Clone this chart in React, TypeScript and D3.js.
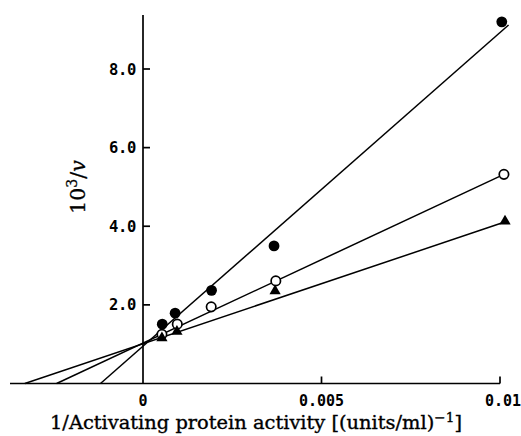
import React from "react";
import * as d3 from "d3";

const W = 521;
const H = 436;

// data (x = 1/activating protein activity, y = 10^3/v)
const filledX = [0.00054, 0.0009, 0.00192, 0.00367, 0.01005];
const filledY = [1.51, 1.79, 2.37, 3.5, 9.2];
const openX = [0.00053, 0.00096, 0.00191, 0.00372, 0.01011];
const openY = [1.25, 1.51, 1.95, 2.61, 5.32];
const triX = [0.00053, 0.00095, 0.0037, 0.01014];
const triY = [1.16, 1.32, 2.35, 4.13];

// fitted lines: start on x axis, end point
const lineStartX = [-0.00119, -0.00242, -0.00331];
const lineEndX = [0.01024, 0.01011, 0.01011];
const lineEndY = [9.12, 5.32, 4.1];

const yTicks = [2, 4, 6, 8];
const yTickLabels = ["2.0", "4.0", "6.0", "8.0"];
const xTicks = [0, 0.005, 0.01];
const xTickLabels = ["0", "0.005", "0.01"];

export default function App() {
  const x = d3.scaleLinear().domain([0, 0.01]).range([143, 500]);
  const y = d3.scaleLinear().domain([0, 8]).range([383.5, 69]);
  const xMin = x.invert(10);
  const yMax = y.invert(15);

  const tickFont = "'DejaVu Sans Mono', 'Liberation Mono', monospace";
  const serif = "'DejaVu Serif', 'Liberation Serif', serif";

  const tri = d3.symbol().type(d3.symbolTriangle).size(55);

  return (
    <svg width={W} height={H} style={{ position: "absolute", left: 0, top: 0, background: "#fff" }}>
      <rect x={0} y={0} width={W} height={H} fill="#fff" />
      {/* axes */}
      <line x1={x(xMin)} x2={x(0.01)} y1={y(0)} y2={y(0)} stroke="#000" strokeWidth={1.7} />
      <line x1={x(0)} x2={x(0)} y1={y(0)} y2={y(yMax)} stroke="#000" strokeWidth={1.7} />
      {yTicks.map((t, i) => (
        <g key={"yt" + i}>
          <line x1={x(0)} x2={x(0) + 7} y1={y(t)} y2={y(t)} stroke="#000" strokeWidth={1.7} />
          <text x={x(0) - 7} y={y(t) + 5.5} textAnchor="end" fontFamily={tickFont} fontWeight="bold" fontSize={15.5} letterSpacing={-0.3} fill="#000">
            {yTickLabels[i]}
          </text>
        </g>
      ))}
      {xTicks.map((t, i) => (
        <g key={"xt" + i}>
          {t !== 0 && (
            <line x1={x(t)} x2={x(t)} y1={y(0)} y2={y(0) - 7} stroke="#000" strokeWidth={1.7} />
          )}
          <text x={x(t) + (t === 0.01 ? 3 : 0)} y={405.5} textAnchor="middle" fontFamily={tickFont} fontWeight="bold" fontSize={15} fill="#000">
            {xTickLabels[i]}
          </text>
        </g>
      ))}
      {/* fitted lines */}
      {lineStartX.map((sx, i) => (
        <line key={"l" + i} x1={x(sx)} y1={y(0)} x2={x(lineEndX[i])} y2={y(lineEndY[i])} stroke="#000" strokeWidth={1.5} />
      ))}
      {/* points */}
      {filledX.map((v, i) => (
        <circle key={"f" + i} cx={x(v)} cy={y(filledY[i])} r={5.4} fill="#000" />
      ))}
      {openX.map((v, i) => (
        <circle key={"o" + i} cx={x(v)} cy={y(openY[i])} r={4.7} fill="#fff" stroke="#000" strokeWidth={1.7} />
      ))}
      {triX.map((v, i) => (
        <path key={"t" + i} d={tri() || ""} transform={`translate(${x(v)},${y(triY[i])})`} fill="#000" />
      ))}
      {/* axis titles */}
      <text x={50} y={429} textLength={412} lengthAdjust="spacingAndGlyphs" fontFamily={serif} fontSize={18.5} fill="#000" stroke="#000" strokeWidth={0.35}>
        1/Activating protein activity [(units/ml)
        <tspan dy={-7} fontSize={13}>−1</tspan>
        <tspan dy={7}>]</tspan>
      </text>
      <text transform="translate(85,187) rotate(-90)" textAnchor="middle" fontFamily={serif} fontSize={20.5} fill="#000" stroke="#000" strokeWidth={0.3}>
        10
        <tspan dy={-8} fontSize={14}>3</tspan>
        <tspan dy={8}>/</tspan>
        <tspan fontStyle="italic">v</tspan>
      </text>
    </svg>
  );
}
